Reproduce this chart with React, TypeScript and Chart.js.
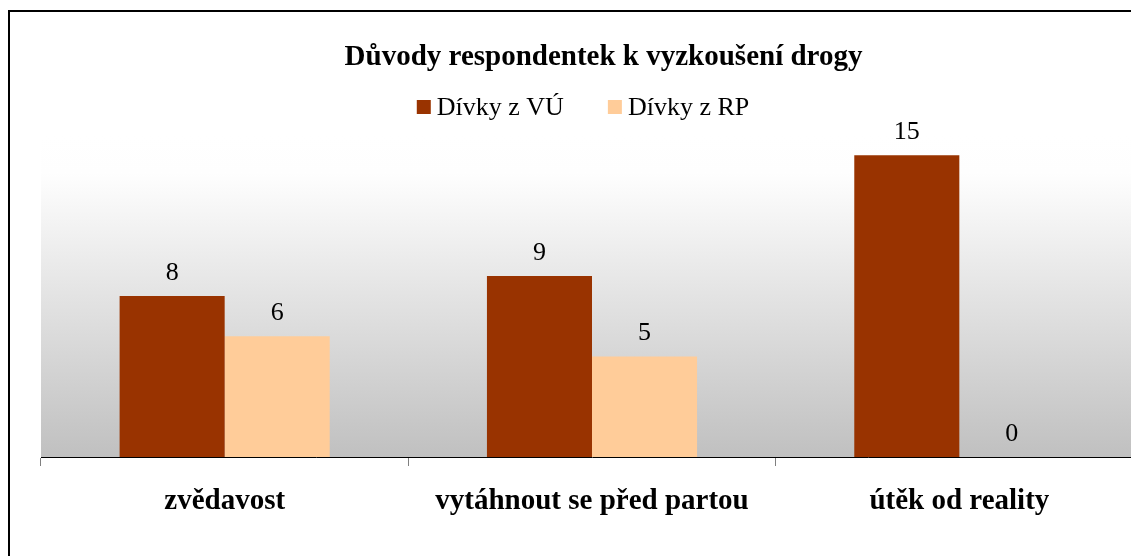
import React, { useEffect, useRef } from 'react';
import { Chart, registerables } from 'chart.js';

Chart.register(...registerables);

const TITLE = 'Důvody respondentek k vyzkoušení drogy';
const categories = ['zvědavost', 'vytáhnout se před partou', 'útěk od reality'];
const seriesNames = ['Dívky z VÚ', 'Dívky z RP'];
const valuesVU = [8, 9, 15];
const valuesRP = [6, 5, 0];
const seriesColors = ['#993300', '#FFCC99'];

const FONT = '"Liberation Serif", "Times New Roman", serif';

const bgPlugin = {
  id: 'plotBg',
  beforeDraw(chart: any) {
    const { ctx, chartArea } = chart;
    const { left, top, right, bottom } = chartArea;
    const g = ctx.createLinearGradient(0, top, 0, bottom);
    g.addColorStop(0, '#ffffff');
    g.addColorStop(0.12, '#fefefe');
    g.addColorStop(1, '#c0c0c0');
    ctx.save();
    ctx.fillStyle = g;
    ctx.fillRect(left, top, right - left, bottom - top);
    ctx.restore();
  },
};

const valueLabels = {
  id: 'valueLabels',
  afterDatasetsDraw(chart: any) {
    const { ctx } = chart;
    ctx.save();
    ctx.font = `26px ${FONT}`;
    ctx.fillStyle = '#000';
    ctx.textAlign = 'center';
    ctx.textBaseline = 'alphabetic';
    chart.data.datasets.forEach((ds: any, i: number) => {
      const meta = chart.getDatasetMeta(i);
      meta.data.forEach((el: any, j: number) => {
        ctx.fillText(String(ds.data[j]), el.x, el.y - 16);
      });
    });
    ctx.restore();
  },
};

const customLegend = {
  id: 'customLegend',
  afterDraw(chart: any) {
    const { ctx } = chart;
    const ds = chart.data.datasets;
    ctx.save();
    ctx.font = `26px ${FONT}`;
    ctx.textBaseline = 'alphabetic';
    ctx.textAlign = 'left';
    const box = 14;
    const gapText = 6;
    const gapItem = 44;
    const widths = ds.map((d: any) => ctx.measureText(d.label).width);
    let total = 0;
    widths.forEach((w: number, i: number) => {
      total += box + gapText + w + (i < widths.length - 1 ? gapItem : 0);
    });
    const centerX = 573;
    const baseline = 103;
    let x = centerX - total / 2;
    ds.forEach((d: any, i: number) => {
      ctx.fillStyle = d.backgroundColor;
      ctx.fillRect(x, 88, box, box);
      ctx.fillStyle = '#000';
      ctx.fillText(d.label, x + box + gapText, baseline);
      x += box + gapText + widths[i] + gapItem;
    });
    ctx.restore();
  },
};

export default function App() {
  const ref = useRef<HTMLCanvasElement | null>(null);

  useEffect(() => {
    if (!ref.current) return;
    const chart = new Chart(ref.current, {
      type: 'bar',
      data: {
        labels: categories,
        datasets: [
          {
            label: seriesNames[0],
            data: valuesVU,
            backgroundColor: seriesColors[0],
            borderWidth: 0,
            categoryPercentage: 0.572,
            barPercentage: 1.0,
          },
          {
            label: seriesNames[1],
            data: valuesRP,
            backgroundColor: seriesColors[1],
            borderWidth: 0,
            categoryPercentage: 0.572,
            barPercentage: 1.0,
          },
        ],
      },
      options: {
        responsive: false,
        animation: false,
        devicePixelRatio: 1,
        layout: { padding: 0 },
        plugins: {
          legend: { display: false },
          tooltip: { enabled: false },
          title: {
            display: true,
            text: TITLE,
            color: '#000',
            font: { family: FONT, size: 29, weight: 'bold', lineHeight: 1.2 },
            padding: { top: 27.8, bottom: 60.4 },
          },
        },
        scales: {
          x: {
            grid: {
              display: true,
              drawOnChartArea: false,
              drawTicks: true,
              tickLength: 9,
              color: '#808080',
              offset: true,
            },
            border: { display: true, color: '#000', width: 1 },
            ticks: {
              color: '#000',
              font: { family: FONT, size: 29, weight: 'bold' },
              padding: 18,
              maxRotation: 0,
              autoSkip: false,
            },
            afterFit(axis: any) {
              axis.height = 115;
            },
          },
          y: {
            position: 'left',
            min: 0,
            max: 16,
            grid: { display: false },
            border: { display: false },
            ticks: { display: false },
            afterFit(axis: any) {
              axis.width = 31;
            },
          },
          y2: {
            position: 'right',
            min: 0,
            max: 16,
            grid: { display: false },
            border: { display: false },
            ticks: { display: false },
            afterFit(axis: any) {
              axis.width = 54;
            },
          },
        },
      },
      plugins: [bgPlugin, valueLabels, customLegend],
    } as any);
    return () => chart.destroy();
  }, []);

  return (
    <div
      style={{
        position: 'fixed',
        left: 0,
        top: 0,
        width: 1131,
        height: 556,
        overflow: 'hidden',
        background: '#fff',
      }}
    >
      <div
        style={{
          position: 'absolute',
          left: 8,
          top: 10,
          width: 1200,
          height: 600,
          borderLeft: '2px solid #000',
          borderTop: '2px solid #000',
          background: '#fff',
        }}
      >
        <canvas ref={ref} width={1187} height={560} style={{ display: 'block' }} />
      </div>
    </div>
  );
}
